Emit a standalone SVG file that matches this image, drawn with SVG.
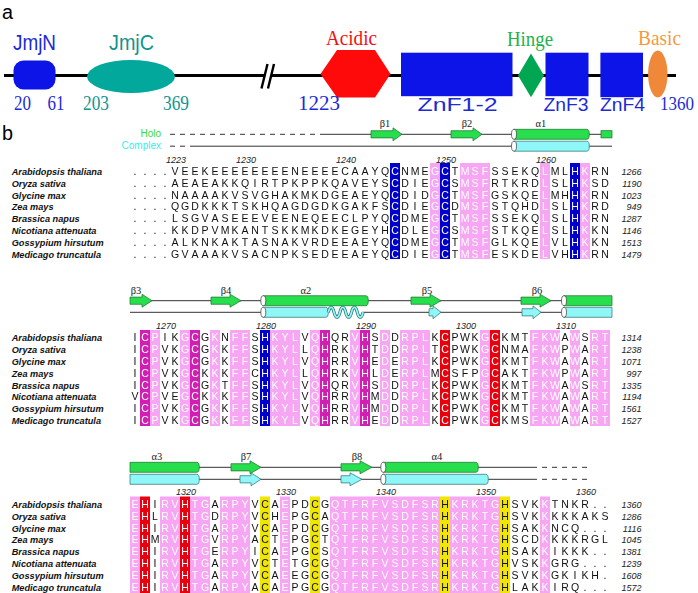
<svg xmlns="http://www.w3.org/2000/svg" width="698" height="593" viewBox="0 0 698 593">
<style>
.sans{font-family:"Liberation Sans",Arial,sans-serif}
.serif{font-family:"Liberation Serif","Times New Roman",serif}
.res{font-family:"Liberation Sans",Arial,sans-serif;font-size:10.5px;text-anchor:middle}
.sp{font-family:"Liberation Sans",Arial,sans-serif;font-size:9.2px;font-weight:bold;font-style:italic;fill:#111}
.num{font-family:"Liberation Sans",Arial,sans-serif;font-size:9px;font-style:italic;fill:#222}
.rn{text-anchor:end}
.ct{text-anchor:middle}
.gk{font-family:"Liberation Serif","Times New Roman",serif;font-size:10.5px;text-anchor:middle;fill:#222}
.ln{stroke:#333;stroke-width:1;fill:none}
.dash{stroke-dasharray:5 5}
.g{fill:#27de4c;stroke:#1c6e2c;stroke-width:0.7}
.c{fill:#8ff7f7;stroke:#2b7070;stroke-width:0.7}
.cap{fill:#fff;stroke:#333;stroke-width:0.7}
.pk{fill:#f6a6f2}
.bl{fill:#0000cc}
.mg{fill:#d11fb3}
.rd{fill:#e8000c}
.yl{fill:#f0e600}
.la{font-size:22px}
.lb{font-size:19px}
</style>
<defs>
<g id="wc1"><rect x="390" y="163" width="10" height="96"/><rect x="430" y="163" width="20" height="96"/><rect x="460" y="163" width="30" height="96"/><rect x="540" y="163" width="10" height="96"/><rect x="570" y="163" width="20" height="96"/></g>
<g id="wc2"><rect x="140" y="330" width="20" height="96"/><rect x="180" y="330" width="20" height="96"/><rect x="210" y="330" width="10" height="96"/><rect x="230" y="330" width="20" height="96"/><rect x="260" y="330" width="40" height="96"/><rect x="310" y="330" width="20" height="96"/><rect x="350" y="330" width="20" height="96"/><rect x="380" y="330" width="10" height="96"/><rect x="400" y="330" width="30" height="96"/><rect x="440" y="330" width="10" height="96"/><rect x="480" y="330" width="20" height="96"/><rect x="530" y="330" width="30" height="96"/><rect x="570" y="330" width="10" height="96"/><rect x="590" y="330" width="20" height="96"/></g>
<g id="wc3"><rect x="130" y="496.5" width="20" height="96.5"/><rect x="160" y="496.5" width="50" height="96.5"/><rect x="220" y="496.5" width="30" height="96.5"/><rect x="280" y="496.5" width="10" height="96.5"/><rect x="330" y="496.5" width="110" height="96.5"/><rect x="450" y="496.5" width="50" height="96.5"/><rect x="540" y="496.5" width="10" height="96.5"/></g>
<mask id="mb1"><rect x="0" y="0" width="698" height="593" fill="#fff"/><use href="#wc1" fill="#000"/></mask>
<mask id="mw1"><use href="#wc1" fill="#fff"/></mask>
<mask id="mb2"><rect x="0" y="0" width="698" height="593" fill="#fff"/><use href="#wc2" fill="#000"/></mask>
<mask id="mw2"><use href="#wc2" fill="#fff"/></mask>
<mask id="mb3"><rect x="0" y="0" width="698" height="593" fill="#fff"/><use href="#wc3" fill="#000"/></mask>
<mask id="mw3"><use href="#wc3" fill="#fff"/></mask>
<g id="seq1" class="res">
<text y="174.8" x="135 145 155 165 175 185 195 205 215 225 235 245 255 265 275 285 295 305 315 325 335 345 355 365 375 385 395 405 415 425 435 445 455 465 475 485 495 505 515 525 535 545 555 565 575 585 595 605">....VEEKEEEEEEEENEEEECAAYQCNMEGCTMSFSSEKQLMLHKRN</text>
<text y="186.65" x="135 145 155 165 175 185 195 205 215 225 235 245 255 265 275 285 295 305 315 325 335 345 355 365 375 385 395 405 415 425 435 445 455 465 475 485 495 505 515 525 535 545 555 565 575 585 595 605">....AEAEAKKQIRTPKPPKQAVEYSCDIEGCSMSFRTKRDLSLHKSD</text>
<text y="198.5" x="135 145 155 165 175 185 195 205 215 225 235 245 255 265 275 285 295 305 315 325 335 345 355 365 375 385 395 405 415 425 435 445 455 465 475 485 495 505 515 525 535 545 555 565 575 585 595 605">....NAAAAKVSVGHAKMKDGEAEYQCDIDGCTMSFGSKQELMHHKRN</text>
<text y="210.35" x="135 145 155 165 175 185 195 205 215 225 235 245 255 265 275 285 295 305 315 325 335 345 355 365 375 385 395 405 415 425 435 445 455 465 475 485 495 505 515 525 535 545 555 565 575 585 595 605">....QGDKKKTSKHQAGDGDKGAKFSCDIEGCDMSFSTQHDLSLHKRD</text>
<text y="222.2" x="135 145 155 165 175 185 195 205 215 225 235 245 255 265 275 285 295 305 315 325 335 345 355 365 375 385 395 405 415 425 435 445 455 465 475 485 495 505 515 525 535 545 555 565 575 585 595 605">....LSGVASEEEVEENEQEECLPYQCDMEGCTMSFSSEKQLSLHKRN</text>
<text y="234.05" x="135 145 155 165 175 185 195 205 215 225 235 245 255 265 275 285 295 305 315 325 335 345 355 365 375 385 395 405 415 425 435 445 455 465 475 485 495 505 515 525 535 545 555 565 575 585 595 605">....KKDPVMKANTSKKMKDKEGEYHCDLEGCSMSFSTKQELSLHKKN</text>
<text y="245.9" x="135 145 155 165 175 185 195 205 215 225 235 245 255 265 275 285 295 305 315 325 335 345 355 365 375 385 395 405 415 425 435 445 455 465 475 485 495 505 515 525 535 545 555 565 575 585 595 605">....ALKNKAKTASNAKVRDEEAEYQCDMEGCTMSFGLKQELVLHKKN</text>
<text y="257.75" x="135 145 155 165 175 185 195 205 215 225 235 245 255 265 275 285 295 305 315 325 335 345 355 365 375 385 395 405 415 425 435 445 455 465 475 485 495 505 515 525 535 545 555 565 575 585 595 605">....GVAAAKVSACNPKSEDEEAEYQCDIEGCTMSFESKDELVHHKRN</text>
</g>
<g id="seq2" class="res">
<text y="341.1" x="135 145 155 165 175 185 195 205 215 225 235 245 255 265 275 285 295 305 315 325 335 345 355 365 375 385 395 405 415 425 435 445 455 465 475 485 495 505 515 525 535 545 555 565 575 585 595 605">ICPIKGCGKNFFSHKYLVQHQRVHSDDRPLKCPWKGCKMTFKWAWSRT</text>
<text y="352.95" x="135 145 155 165 175 185 195 205 215 225 235 245 255 265 275 285 295 305 315 325 335 345 355 365 375 385 395 405 415 425 435 445 455 465 475 485 495 505 515 525 535 545 555 565 575 585 595 605">ICPVKGCGKKFFSHKYLLQHRKVHTDDRPLTCPWKGCNMAFKWPWART</text>
<text y="364.8" x="135 145 155 165 175 185 195 205 215 225 235 245 255 265 275 285 295 305 315 325 335 345 355 365 375 385 395 405 415 425 435 445 455 465 475 485 495 505 515 525 535 545 555 565 575 585 595 605">ICPVKGCGKKFFSHKYLVQHRRVHEDERPLKCPWKGCKMTFKWAWART</text>
<text y="376.65" x="135 145 155 165 175 185 195 205 215 225 235 245 255 265 275 285 295 305 315 325 335 345 355 365 375 385 395 405 415 425 435 445 455 465 475 485 495 505 515 525 535 545 555 565 575 585 595 605">ICPVKGCKKKFFCHKYLLQHRKVHLDERPLMCSFPGCAKTFKWPWART</text>
<text y="388.5" x="135 145 155 165 175 185 195 205 215 225 235 245 255 265 275 285 295 305 315 325 335 345 355 365 375 385 395 405 415 425 435 445 455 465 475 485 495 505 515 525 535 545 555 565 575 585 595 605">ICPVKGCGKTFFSHKYLVQHQRVHSDDRPLKCPWKGCKMTFKWAWSRT</text>
<text y="400.35" x="135 145 155 165 175 185 195 205 215 225 235 245 255 265 275 285 295 305 315 325 335 345 355 365 375 385 395 405 415 425 435 445 455 465 475 485 495 505 515 525 535 545 555 565 575 585 595 605">VCPVEGCKKKFFSHKYLVQHRRVHMDDRPLKCPWKGCKMTFKWAWART</text>
<text y="412.2" x="135 145 155 165 175 185 195 205 215 225 235 245 255 265 275 285 295 305 315 325 335 345 355 365 375 385 395 405 415 425 435 445 455 465 475 485 495 505 515 525 535 545 555 565 575 585 595 605">ICPVKGCGKKFFSHKYLVQHRRVHMDDRPLKCPWKGCKMTFKWAWART</text>
<text y="424.05" x="135 145 155 165 175 185 195 205 215 225 235 245 255 265 275 285 295 305 315 325 335 345 355 365 375 385 395 405 415 425 435 445 455 465 475 485 495 505 515 525 535 545 555 565 575 585 595 605">ICPVKGCGKKFFSHKYLVQHRRVHEDDRPLKCPWKGCKMSFKWAWART</text>
</g>
<g id="seq3" class="res">
<text y="507.8" x="135 145 155 165 175 185 195 205 215 225 235 245 255 265 275 285 295 305 315 325 335 345 355 365 375 385 395 405 415 425 435 445 455 465 475 485 495 505 515 525 535 545 555 565 575 585 595 605">EHIRVHTGARPYVCAEPDCGQTFRFVSDFSRHKRKTGHSVKKTNKR..</text>
<text y="519.65" x="135 145 155 165 175 185 195 205 215 225 235 245 255 265 275 285 295 305 315 325 335 345 355 365 375 385 395 405 415 425 435 445 455 465 475 485 495 505 515 525 535 545 555 565 575 585 595 605">EHLRVHTGDRPYVCHEPGCAQTFRFVSDFSRHKRKTGHSVKKKKKAKS</text>
<text y="531.5" x="135 145 155 165 175 185 195 205 215 225 235 245 255 265 275 285 295 305 315 325 335 345 355 365 375 385 395 405 415 425 435 445 455 465 475 485 495 505 515 525 535 545 555 565 575 585 595 605">EHIRVHTGARPYVCAEPDCGQTFRFVSDFSRHKRKTGHSAKKNCQ...</text>
<text y="543.35" x="135 145 155 165 175 185 195 205 215 225 235 245 255 265 275 285 295 305 315 325 335 345 355 365 375 385 395 405 415 425 435 445 455 465 475 485 495 505 515 525 535 545 555 565 575 585 595 605">EHMRVHTGVRPYACTEPGCTQTFRFVSDFSRHKRKTGHSCDKKKKRGL</text>
<text y="555.2" x="135 145 155 165 175 185 195 205 215 225 235 245 255 265 275 285 295 305 315 325 335 345 355 365 375 385 395 405 415 425 435 445 455 465 475 485 495 505 515 525 535 545 555 565 575 585 595 605">EHIRVHTGERPYICAEPGCSQTFRFVSDFSRHKRKTGHSAKKIKKK..</text>
<text y="567.05" x="135 145 155 165 175 185 195 205 215 225 235 245 255 265 275 285 295 305 315 325 335 345 355 365 375 385 395 405 415 425 435 445 455 465 475 485 495 505 515 525 535 545 555 565 575 585 595 605">EHIRVHTGARPYVCTETGCGQTFRFVSDFSRHKRKTGHVSKKGRG...</text>
<text y="578.9" x="135 145 155 165 175 185 195 205 215 225 235 245 255 265 275 285 295 305 315 325 335 345 355 365 375 385 395 405 415 425 435 445 455 465 475 485 495 505 515 525 535 545 555 565 575 585 595 605">EHIRVHTGARPYVCAEEGCGQTFRFVSDFSRHKRKTGHSVKKGKIKH.</text>
<text y="590.75" x="135 145 155 165 175 185 195 205 215 225 235 245 255 265 275 285 295 305 315 325 335 345 355 365 375 385 395 405 415 425 435 445 455 465 475 485 495 505 515 525 535 545 555 565 575 585 595 605">EHIRVHTGARPYACAEPGCGQTFRFVSDFSRHKRKTGHLAKKIRQ...</text>
</g>
</defs>
<rect width="698" height="593" fill="#fff"/>

<g id="panel-a">
<text class="sans" x="2" y="19" font-size="20" textLength="11" lengthAdjust="spacingAndGlyphs">a</text>
<g id="backbone">
<line x1="4" y1="75.5" x2="676" y2="75.5" stroke="#000" stroke-width="3"/>
<rect x="264.6" y="71" width="6.6" height="9" fill="#fff"/>
<line x1="261.5" y1="88.5" x2="267.5" y2="64" stroke="#000" stroke-width="2.4"/>
<line x1="268" y1="88.5" x2="274" y2="64" stroke="#000" stroke-width="2.4"/>
</g>
<g id="jmjn"><rect x="13.5" y="60.5" width="42" height="29" rx="10" fill="#0c14e8"/><text class="sans la ct" x="34.5" y="50" fill="#1c2bd6" textLength="43" lengthAdjust="spacingAndGlyphs">JmjN</text></g>
<g id="jmjc"><ellipse cx="131" cy="76.5" rx="44" ry="16.5" fill="#02a89c"/><text class="sans la ct" x="131.5" y="50" fill="#10958f" textLength="45" lengthAdjust="spacingAndGlyphs">JmjC</text></g>
<g id="acidic"><polygon points="320.5,74 337,50 375,50 390.5,74 375,97.5 337,97.5" fill="#ff0a0a"/><text class="serif la ct" x="351.5" y="44.5" fill="#f01010" textLength="51" lengthAdjust="spacingAndGlyphs">Acidic</text></g>
<g id="znf12"><rect x="401" y="52.7" width="111.5" height="43.5" fill="#0c14e8"/><text class="sans lb ct" x="457.5" y="111" fill="#1c2bd6" textLength="80" lengthAdjust="spacingAndGlyphs">ZnF1-2</text></g>
<g id="hinge"><polygon points="531,53.5 544,75.4 531,97.3 518,75.4" fill="#00a651"/><text class="serif la ct" x="530" y="46" fill="#22b14c" textLength="46" lengthAdjust="spacingAndGlyphs">Hinge</text></g>
<g id="znf3"><rect x="545.5" y="52.7" width="43" height="43.5" fill="#0c14e8"/><text class="sans lb ct" x="566" y="111" fill="#1c2bd6" textLength="45" lengthAdjust="spacingAndGlyphs">ZnF3</text></g>
<g id="znf4"><rect x="600.4" y="52.7" width="42.6" height="44.5" fill="#0c14e8"/><text class="sans lb ct" x="622.5" y="111" fill="#1c2bd6" textLength="45" lengthAdjust="spacingAndGlyphs">ZnF4</text></g>
<g id="basic"><ellipse cx="657.8" cy="74" rx="9.7" ry="23.5" fill="#f0883a"/><text class="serif la ct" x="659.5" y="45" fill="#f49a3c" textLength="43" lengthAdjust="spacingAndGlyphs">Basic</text></g>
<g id="positions" class="serif" font-size="20">
<text x="14" y="110" fill="#1c2bd6" textLength="17" lengthAdjust="spacingAndGlyphs">20</text>
<text x="47.5" y="110" fill="#1c2bd6" textLength="17" lengthAdjust="spacingAndGlyphs">61</text>
<text x="83" y="110" fill="#10958f" textLength="26" lengthAdjust="spacingAndGlyphs">203</text>
<text x="163" y="110" fill="#10958f" textLength="26" lengthAdjust="spacingAndGlyphs">369</text>
<text x="298" y="110" fill="#1c2bd6" textLength="42" lengthAdjust="spacingAndGlyphs">1223</text>
<text x="694" y="110" fill="#1c2bd6" text-anchor="end" font-size="19" textLength="34" lengthAdjust="spacingAndGlyphs">1360</text>
</g>
</g>

<g id="panel-b">
<text class="sans" x="2" y="140" font-size="21" textLength="11" lengthAdjust="spacingAndGlyphs">b</text>
<text class="sans rn" x="161" y="137" font-size="10" fill="#33dd33">Holo</text>
<text class="sans rn" x="161" y="149" font-size="10" fill="#33eeee">Complex</text>

<g id="ss-block1">
<line class="ln dash" x1="170" y1="134.3" x2="320" y2="134.3"/>
<line class="ln" x1="320" y1="134.3" x2="612" y2="134.3"/>
<line class="ln dash" x1="170" y1="146.2" x2="188" y2="146.2"/>
<line class="ln" x1="190" y1="146.2" x2="612" y2="146.2"/>
<path class="g" d="M371,130.7 H393 V127.8 L402,134.3 L393,140.8 V137.9 H371 Z"/>
<path class="g" d="M451,130.7 H473 V127.8 L482,134.3 L473,140.8 V137.9 H451 Z"/>
<path class="g" d="M514,129.3 H586.8 A2.5,5 0 0 1 586.8,139.3 H514 Z"/><ellipse class="cap" cx="514" cy="134.3" rx="2.5" ry="5"/>
<rect class="g" x="601" y="130.7" width="11" height="7.2"/>
<path class="c" d="M514,141.2 H586.8 A2.5,5 0 0 1 586.8,151.2 H514 Z"/><ellipse class="cap" cx="514" cy="146.2" rx="2.5" ry="5"/>
<text class="gk" x="385" y="127">β1</text><text class="gk" x="467" y="127">β2</text><text class="gk" x="541" y="127">α1</text>
</g>

<g id="ss-block2">
<line class="ln" x1="130" y1="300.7" x2="612" y2="300.7"/>
<line class="ln" x1="130" y1="312.3" x2="264" y2="312.3"/>
<line class="ln" x1="362" y1="312.3" x2="612" y2="312.3"/>
<path class="g" d="M130,297.1 H142 V294.2 L152,300.7 L142,307.2 V304.3 H130 Z"/>
<path class="g" d="M211,297.1 H230 V294.2 L241,300.7 L230,307.2 V304.3 H211 Z"/>
<path class="g" d="M263.3,295.7 H365.8 A2.5,5 0 0 1 365.8,305.7 H263.3 Z"/><ellipse class="cap" cx="263.3" cy="300.7" rx="2.5" ry="5"/>
<path class="g" d="M411,297.1 H430 V294.2 L441,300.7 L430,307.2 V304.3 H411 Z"/>
<path class="g" d="M521,297.1 H540 V294.2 L551,300.7 L540,307.2 V304.3 H521 Z"/>
<path class="g" d="M564,295.7 H612 V305.7 H564 Z"/><ellipse class="cap" cx="564" cy="300.7" rx="2.5" ry="5"/>
<path class="c" d="M263.3,307.3 H325.8 A2.5,5 0 0 1 325.8,317.3 H263.3 Z"/><ellipse class="cap" cx="263.3" cy="312.3" rx="2.5" ry="5"/>
<path d="M328.3,312.3 c1.5,-6.5 4.3,-6.5 5.8,0 s4.3,6.5 5.8,0 s4.3,-6.5 5.8,0 s4.3,6.5 5.8,0 s4.3,-6.5 5.8,0 s4.3,6.5 5.8,0" fill="none" stroke="#2b7070" stroke-width="3.2"/>
<path d="M328.3,312.3 c1.5,-6.5 4.3,-6.5 5.8,0 s4.3,6.5 5.8,0 s4.3,-6.5 5.8,0 s4.3,6.5 5.8,0 s4.3,-6.5 5.8,0 s4.3,6.5 5.8,0" fill="none" stroke="#8ff7f7" stroke-width="1.8"/>
<path class="c" d="M429,308.7 H433 V305.8 L441,312.3 L433,318.8 V315.9 H429 Z"/>
<path class="c" d="M522,308.7 H533 V305.8 L541,312.3 L533,318.8 V315.9 H522 Z"/>
<path class="c" d="M564,307.3 H612 V317.3 H564 Z"/><ellipse class="cap" cx="564" cy="312.3" rx="2.5" ry="5"/>
<text class="gk" x="136" y="293.5">β3</text><text class="gk" x="226" y="293.5">β4</text><text class="gk" x="306" y="293.5">α2</text><text class="gk" x="427" y="293.5">β5</text><text class="gk" x="537" y="293.5">β6</text>
</g>

<g id="ss-block3">
<line class="ln" x1="130" y1="467.3" x2="532" y2="467.3"/>
<line class="ln dash" x1="532" y1="467.3" x2="588" y2="467.3"/>
<line class="ln" x1="130" y1="479.3" x2="532" y2="479.3"/>
<line class="ln dash" x1="532" y1="479.3" x2="588" y2="479.3"/>
<path class="g" d="M130,462.3 H196.8 A2.5,5 0 0 1 196.8,472.3 H130 Z"/>
<path class="g" d="M231,463.7 H250 V460.8 L261,467.3 L250,473.8 V470.9 H231 Z"/>
<path class="g" d="M341,463.7 H360 V460.8 L372,467.3 L360,473.8 V470.9 H341 Z"/>
<path class="g" d="M383.3,462.3 H475.8 A2.5,5 0 0 1 475.8,472.3 H383.3 Z"/><ellipse class="cap" cx="383.3" cy="467.3" rx="2.5" ry="5"/>
<path class="c" d="M130,474.3 H196.8 A2.5,5 0 0 1 196.8,484.3 H130 Z"/>
<path class="c" d="M240,475.7 H251 V472.8 L261,479.3 L251,485.8 V482.9 H240 Z"/>
<path class="c" d="M341,475.7 H350 V472.8 L362,479.3 L350,485.8 V482.9 H341 Z"/>
<path class="c" d="M383.3,474.3 H485.8 A2.5,5 0 0 1 485.8,484.3 H383.3 Z"/><ellipse class="cap" cx="383.3" cy="479.3" rx="2.5" ry="5"/>
<text class="gk" x="157" y="459.5">α3</text><text class="gk" x="246" y="459.5">β7</text><text class="gk" x="357" y="459.5">β8</text><text class="gk" x="437" y="459.5">α4</text>
</g>

<g id="bg-block1">
<rect class="bl" x="390" y="163" width="10" height="96"/><rect class="pk" x="430" y="163" width="10" height="96"/><rect class="bl" x="440" y="163" width="10" height="96"/><rect class="pk" x="460" y="163" width="30" height="96"/><rect class="pk" x="540" y="163" width="10" height="96"/><rect class="bl" x="570" y="163" width="10" height="96"/><rect class="pk" x="580" y="163" width="10" height="96"/>
</g>
<g id="bg-block2">
<rect class="mg" x="140" y="330" width="10" height="96"/><rect class="pk" x="150" y="330" width="10" height="96"/><rect class="pk" x="180" y="330" width="10" height="96"/><rect class="mg" x="190" y="330" width="10" height="96"/><rect class="pk" x="210" y="330" width="10" height="96"/><rect class="pk" x="230" y="330" width="20" height="96"/><rect class="bl" x="260" y="330" width="10" height="96"/><rect class="pk" x="270" y="330" width="30" height="96"/><rect class="pk" x="310" y="330" width="10" height="96"/><rect class="mg" x="320" y="330" width="10" height="96"/><rect class="pk" x="350" y="330" width="10" height="96"/><rect class="mg" x="360" y="330" width="10" height="96"/><rect class="pk" x="380" y="330" width="10" height="96"/><rect class="pk" x="400" y="330" width="30" height="96"/><rect class="rd" x="440" y="330" width="10" height="96"/><rect class="pk" x="480" y="330" width="10" height="96"/><rect class="rd" x="490" y="330" width="10" height="96"/><rect class="pk" x="530" y="330" width="30" height="96"/><rect class="pk" x="570" y="330" width="10" height="96"/><rect class="pk" x="590" y="330" width="20" height="96"/>
</g>
<g id="bg-block3">
<rect class="pk" x="130" y="496.5" width="10" height="96.5"/><rect class="rd" x="140" y="496.5" width="10" height="96.5"/><rect class="pk" x="160" y="496.5" width="20" height="96.5"/><rect class="rd" x="180" y="496.5" width="10" height="96.5"/><rect class="pk" x="190" y="496.5" width="20" height="96.5"/><rect class="pk" x="220" y="496.5" width="30" height="96.5"/><rect class="yl" x="260" y="496.5" width="10" height="96.5"/><rect class="pk" x="280" y="496.5" width="10" height="96.5"/><rect class="yl" x="310" y="496.5" width="10" height="96.5"/><rect class="pk" x="330" y="496.5" width="110" height="96.5"/><rect class="yl" x="440" y="496.5" width="10" height="96.5"/><rect class="pk" x="450" y="496.5" width="50" height="96.5"/><rect class="yl" x="500" y="496.5" width="10" height="96.5"/><rect class="pk" x="540" y="496.5" width="10" height="96.5"/>
</g>

<g id="residues">
<use href="#seq1" fill="#111" mask="url(#mb1)"/><use href="#seq1" fill="#fff" mask="url(#mw1)"/>
<use href="#seq2" fill="#111" mask="url(#mb2)"/><use href="#seq2" fill="#fff" mask="url(#mw2)"/>
<use href="#seq3" fill="#111" mask="url(#mb3)"/><use href="#seq3" fill="#fff" mask="url(#mw3)"/>
</g>

<g id="numbering" class="num ct">
<text x="176" y="162.5">1223</text><text x="246" y="162.5">1230</text><text x="346" y="162.5">1240</text><text x="446" y="162.5">1250</text><text x="546" y="162.5">1260</text>
<text x="166" y="328.8">1270</text><text x="266" y="328.8">1280</text><text x="366" y="328.8">1290</text><text x="466" y="328.8">1300</text><text x="566" y="328.8">1310</text>
<text x="186" y="495">1320</text><text x="286" y="495">1330</text><text x="386" y="495">1340</text><text x="486" y="495">1350</text><text x="586" y="495">1360</text>
</g>

<g id="species">
<text class="sp" x="11.7" y="174.8">Arabidopsis thaliana</text><text class="sp" x="11.7" y="186.65">Oryza sativa</text><text class="sp" x="11.7" y="198.5">Glycine max</text><text class="sp" x="11.7" y="210.35">Zea mays</text><text class="sp" x="11.7" y="222.2">Brassica napus</text><text class="sp" x="11.7" y="234.05">Nicotiana attenuata</text><text class="sp" x="11.7" y="245.9">Gossypium hirsutum</text><text class="sp" x="11.7" y="257.75">Medicago truncatula</text>
<text class="sp" x="11.7" y="341.1">Arabidopsis thaliana</text><text class="sp" x="11.7" y="352.95">Oryza sativa</text><text class="sp" x="11.7" y="364.8">Glycine max</text><text class="sp" x="11.7" y="376.65">Zea mays</text><text class="sp" x="11.7" y="388.5">Brassica napus</text><text class="sp" x="11.7" y="400.35">Nicotiana attenuata</text><text class="sp" x="11.7" y="412.2">Gossypium hirsutum</text><text class="sp" x="11.7" y="424.05">Medicago truncatula</text>
<text class="sp" x="11.7" y="507.8">Arabidopsis thaliana</text><text class="sp" x="11.7" y="519.65">Oryza sativa</text><text class="sp" x="11.7" y="531.5">Glycine max</text><text class="sp" x="11.7" y="543.35">Zea mays</text><text class="sp" x="11.7" y="555.2">Brassica napus</text><text class="sp" x="11.7" y="567.05">Nicotiana attenuata</text><text class="sp" x="11.7" y="578.9">Gossypium hirsutum</text><text class="sp" x="11.7" y="590.75">Medicago truncatula</text>
</g>

<g id="end-numbers" class="num rn" font-size="9.5">
<text x="641.5" y="174.8">1266</text><text x="641.5" y="186.65">1190</text><text x="641.5" y="198.5">1023</text><text x="641.5" y="210.35">949</text><text x="641.5" y="222.2">1287</text><text x="641.5" y="234.05">1146</text><text x="641.5" y="245.9">1513</text><text x="641.5" y="257.75">1479</text>
<text x="641.5" y="341.1">1314</text><text x="641.5" y="352.95">1238</text><text x="641.5" y="364.8">1071</text><text x="641.5" y="376.65">997</text><text x="641.5" y="388.5">1335</text><text x="641.5" y="400.35">1194</text><text x="641.5" y="412.2">1561</text><text x="641.5" y="424.05">1527</text>
<text x="641.5" y="507.8">1360</text><text x="641.5" y="519.65">1286</text><text x="641.5" y="531.5">1116</text><text x="641.5" y="543.35">1045</text><text x="641.5" y="555.2">1381</text><text x="641.5" y="567.05">1239</text><text x="641.5" y="578.9">1608</text><text x="641.5" y="590.75">1572</text>
</g>
</g>
</svg>
